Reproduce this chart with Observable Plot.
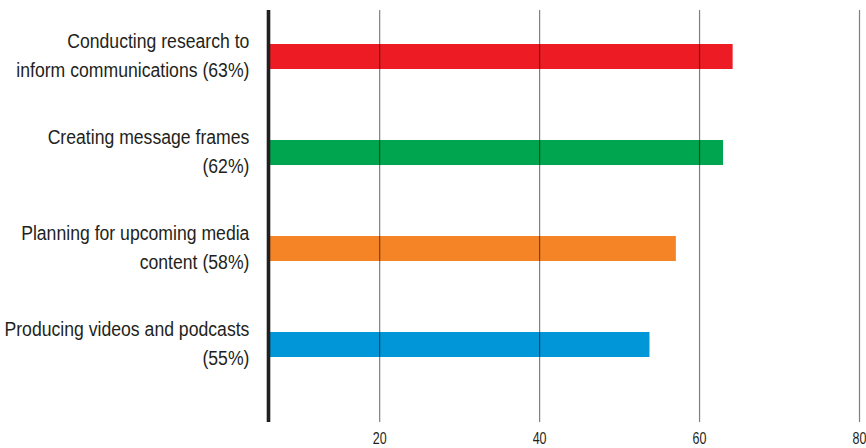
<!DOCTYPE html>
<html>
<head>
<meta charset="utf-8">
<script src="https://cdn.jsdelivr.net/npm/d3@7"></script>
<script src="https://cdn.jsdelivr.net/npm/@observablehq/plot@0.6"></script>
<style>
  html, body { margin: 0; padding: 0; background: #fff; }
  #chart svg { display: block; }
</style>
</head>
<body>
<div id="chart"></div>
<script>
const categories = [
  "Conducting research to inform communications",
  "Creating message frames",
  "Planning for upcoming media content",
  "Producing videos and podcasts"
];
const labels = [
  "Conducting research to\ninform communications (63%)",
  "Creating message frames\n(62%)",
  "Planning for upcoming media\ncontent (58%)",
  "Producing videos and podcasts\n(55%)"
];
const values = [64.2, 63, 57.1, 53.8];
const colors = ["#ED1C24", "#00A54F", "#F58426", "#0096D8"];
const tickValues = [20, 40, 60, 80];
const xMin = 6.1;
const xMax = 80;

const data = categories.map((c, i) => ({category: c, label: labels[i], value: values[i], color: colors[i]}));

const font = "'Liberation Sans', Arial, sans-serif";
const labelGap = 19;
const condense = 0.84;
const tickCondense = 0.78;

const chart = Plot.plot({
  width: 866,
  height: 448,
  marginLeft: 268,
  marginRight: 7,
  marginTop: 10,
  marginBottom: 26,
  style: {fontFamily: font, background: "#fff", color: "#231f20"},
  x: {domain: [xMin, xMax], ticks: tickValues, label: null},
  y: {domain: categories, range: [43, 357], paddingInner: 0.74, paddingOuter: 0, axis: null},
  marks: [
    Plot.barX(data, {x1: xMin, x2: "value", y: "category", fill: "color"}),
    Plot.ruleX(tickValues, {stroke: "#000", strokeOpacity: 0.5, strokeWidth: 1.2}),
    Plot.ruleX([xMin], {stroke: "#231f20", strokeWidth: 3.6}),
    Plot.axisX({ticks: tickValues, tickSize: 0, tickPadding: 10, fontSize: 16, fill: "#231f20", fontFamily: font, label: null}),
    Plot.text(data, {y: "category", text: "label", frameAnchor: "left", textAnchor: "end", dx: -labelGap, dy: -3.5, fontSize: 21, lineHeight: 1.38, fill: "#231f20", fontFamily: font})
  ]
});

// condense label text horizontally (stand-in for a condensed typeface)
const anchorX = chart.scale("x").range[0] - labelGap;
chart.querySelectorAll('g[aria-label="text"]').forEach(g => {
  const wrap = document.createElementNS("http://www.w3.org/2000/svg", "g");
  wrap.setAttribute("transform", `translate(${anchorX},0) scale(${condense},1) translate(${-anchorX},0)`);
  g.parentNode.insertBefore(wrap, g);
  wrap.appendChild(g);
});
// condense tick labels around their own anchor
chart.querySelectorAll('g[aria-label="x-axis tick label"] text').forEach(t => {
  const tr = t.getAttribute("transform") || "";
  t.setAttribute("transform", `${tr} scale(${tickCondense},1)`);
});

document.getElementById("chart").appendChild(chart);
</script>
</body>
</html>
